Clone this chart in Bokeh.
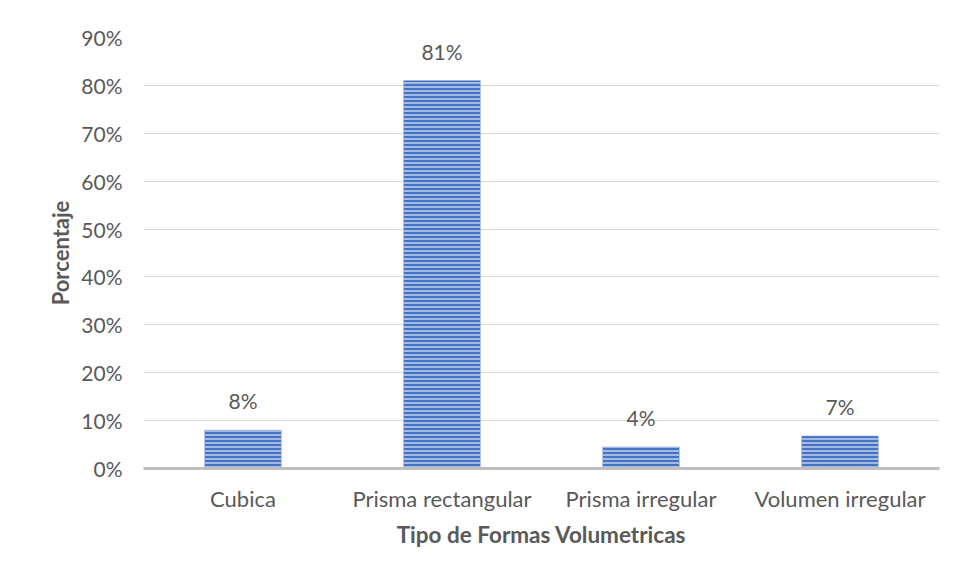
from bokeh.plotting import figure
from bokeh.models import Range1d, FixedTicker, NumeralTickFormatter, ColumnDataSource
from bokeh.core.properties import value
from bokeh.embed import file_html
from bokeh.resources import INLINE

categories = ["Cubica", "Prisma rectangular", "Prisma irregular", "Volumen irregular"]
values = [0.08, 0.81, 0.045, 0.068]
labels = ["8%", "81%", "4%", "7%"]
y_ticks = [0.0, 0.1, 0.2, 0.3, 0.4, 0.5, 0.6, 0.7, 0.8, 0.9]

FONT = "Lato"
TXT = "#595959"

src = ColumnDataSource(dict(cat=categories, val=values, lab=labels))

p = figure(x_range=categories, y_range=Range1d(0, 0.9), width=948, height=564,
           output_backend="svg", toolbar_location=None,
           min_border_left=143, min_border_top=37, min_border_right=9, min_border_bottom=96)
p.styles = {"box-shadow": "-1px -1px 0px 0px #d9d9d9"}
p.outline_line_color = None
p.background_fill_color = "white"

p.vbar(x="cat", top="val", width=0.385, source=src,
       fill_color="#4472C4", line_color="#8eaadb", line_width=0.5,
       hatch_pattern="horizontal_line", hatch_color="#d0dcf2", hatch_scale=4,
       hatch_weight=1.6, hatch_alpha=0.85)

p.text(x="cat", y="val", text="lab", source=src, text_align="center",
       text_baseline="bottom", y_offset=-17, text_font=value(FONT),
       text_font_size="21px", text_color=TXT)

p.xgrid.grid_line_color = None
p.ygrid.grid_line_color = "#d9d9d9"
p.ygrid.grid_line_width = 1

p.yaxis.ticker = FixedTicker(ticks=y_ticks)
p.yaxis.formatter = NumeralTickFormatter(format="0%")
p.yaxis.axis_line_color = None
p.yaxis.major_tick_line_color = None
p.yaxis.minor_tick_line_color = None
p.yaxis.major_label_standoff = 15
p.yaxis.axis_label = "Porcentaje"
p.yaxis.axis_label_standoff = 4

p.xaxis.axis_line_color = "#bfbfbf"
p.xaxis.axis_line_width = 3
p.xaxis.major_tick_line_color = None
p.xaxis.minor_tick_line_color = None
p.xaxis.major_label_standoff = 10
p.xaxis.axis_label = "Tipo de Formas Volumetricas"
p.xaxis.axis_label_standoff = 6

for ax in (p.xaxis, p.yaxis):
    ax.major_label_text_font = FONT
    ax.major_label_text_color = TXT
    ax.axis_label_text_font = FONT
    ax.axis_label_text_font_size = "22px"
    ax.axis_label_text_font_style = "bold"
    ax.axis_label_text_color = TXT
p.yaxis.major_label_text_font_size = "21px"
p.xaxis.major_label_text_font_size = "22px"
p.xaxis.axis_label_text_font_size = "22.5px"

open("out.html", "w").write(file_html(p, INLINE))
